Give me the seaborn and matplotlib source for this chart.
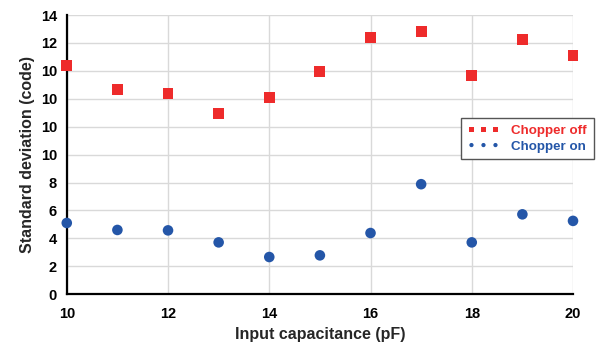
import matplotlib
matplotlib.use('Agg')
import matplotlib.pyplot as plt
import numpy as np
import pandas as pd
import seaborn as sns

# Data
capacitance = [10, 11, 12, 13, 14, 15, 16, 17, 18, 19, 20]
chopper_off = [16.38, 14.66, 14.35, 12.93, 14.11, 15.93, 18.42, 18.80, 15.66, 18.25, 17.13]
chopper_on = [5.10, 4.60, 4.57, 3.71, 2.66, 2.78, 4.38, 7.88, 3.71, 5.72, 5.25]

y_ticks = [0, 2, 4, 6, 8, 10, 12, 14, 16, 18, 20]
y_tick_labels = ['0', '2', '4', '6', '8', '10', '10', '10', '10', '12', '14']
x_ticks = [10, 12, 14, 16, 18, 20]

red = '#EE2B2B'
blue = '#2456A8'

sns.set_style('white')
plt.rcParams['font.family'] = ['Liberation Sans', 'DejaVu Sans']

df = pd.DataFrame({'cap': capacitance, 'off': chopper_off, 'on': chopper_on})

fig = plt.figure(figsize=(6.07, 3.51), dpi=100)
ax = fig.add_axes([0.110, 0.162, 0.834, 0.795])

sns.scatterplot(data=df, x='cap', y='off', ax=ax, color=red, marker='s', s=62,
                edgecolor='none', label='Chopper off', clip_on=False, zorder=3)
sns.scatterplot(data=df, x='cap', y='on', ax=ax, color=blue, marker='o', s=58,
                edgecolor='none', label='Chopper on', clip_on=False, zorder=3)

ax.set_xlim(10, 20)
ax.set_ylim(0, 20)
ax.set_xticks(x_ticks)
ax.set_yticks(y_ticks)
ax.set_yticklabels(y_tick_labels)
ax.grid(True, color='#d9d9d9', linewidth=1)
ax.set_axisbelow(True)

for s in ['top', 'right']:
    ax.spines[s].set_visible(False)
for s in ['left', 'bottom']:
    ax.spines[s].set_color('black')
    ax.spines[s].set_linewidth(1.6)

ax.tick_params(axis='both', direction='inout', length=7, width=1.2, colors='black',
               labelsize=10.5)
for lbl in ax.get_xticklabels() + ax.get_yticklabels():
    lbl.set_fontweight('bold')
ax.tick_params(axis='x', pad=6)

ax.set_xlabel('Input capacitance (pF)', fontsize=11.5, fontweight='bold')
ax.set_ylabel('Standard deviation (code)', fontsize=11.5, fontweight='bold')

leg = ax.legend(loc='upper right', bbox_to_anchor=(1.041, 0.631), scatterpoints=3,
                markerscale=0.4, fancybox=False, edgecolor='#555555', framealpha=1,
                fontsize=9.6, handletextpad=0.9, borderpad=0.5, labelspacing=0.25,
                handlelength=2.4, borderaxespad=0, scatteryoffsets=[0.5])
leg.get_frame().set_linewidth(1.0)
for txt, c in zip(leg.get_texts(), [red, blue]):
    txt.set_color(c)
    txt.set_fontweight('bold')

fig.savefig('out.png', dpi=100)
